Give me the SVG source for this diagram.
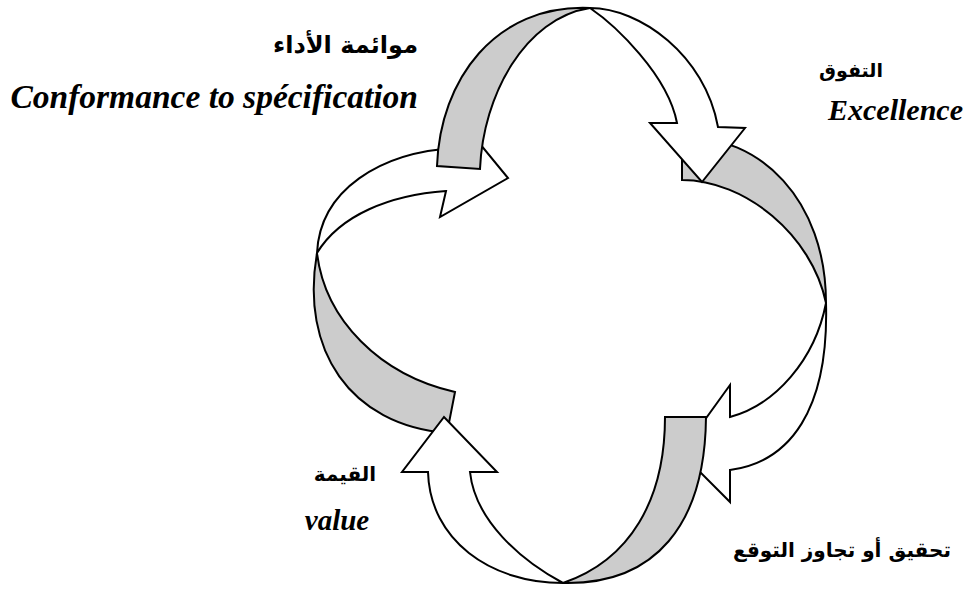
<svg xmlns="http://www.w3.org/2000/svg" width="968" height="590" viewBox="0 0 968 590">
  <style>
    .back { fill: #cccccc; stroke: #000; stroke-width: 2; stroke-linejoin: miter; }
    .front { fill: #ffffff; stroke: #000; stroke-width: 2; stroke-linejoin: miter; }
    .ar { font-family: "DejaVu Sans", sans-serif; font-weight: bold; fill: #000; }
    .en { font-family: "Liberation Serif", "Times New Roman", serif; font-weight: bold; font-style: italic; fill: #000; }
  </style>
  <rect width="968" height="590" fill="#ffffff"/>

  <!-- four curved ribbon arrows forming a clockwise cycle -->
  <g id="connectors">
    <g id="arrow-left">
      <path class="back" d="M455,392 C380,375 325,320 317,253 C300,350 350,425 447,433 Z"/>
      <path class="front" d="M317,253 C320,190 380,152 456,148 L462,122 L508,178 L440,217 L446,191 C390,195 340,215 317,253 Z"/>
    </g>
    <g id="arrow-right">
      <path class="back" d="M682,180 C745,180 812,235 826,303 C826,200 760,135 682,137 Z"/>
      <path class="front" d="M826,303 C829,410 790,462 730,470 L730,502 L681,453 L730,385 L730,417 C775,405 815,360 826,303 Z"/>
    </g>
    <g id="arrow-top">
      <path class="back" d="M480,169 C483,95 525,18 590,8 C495,4 440,80 437,166 Z"/>
      <path class="front" d="M590,8 C640,8 705,55 718,127 L745,128 L702,182 L650,123 L677,123 C668,75 615,25 590,8 Z"/>
    </g>
    <g id="arrow-bottom">
      <path class="back" d="M665,417 C665,500 630,560 563,583 C655,585 705,525 706,417 Z"/>
      <path class="front" d="M563,583 C490,583 430,540 428,472 L402,472 L444,417 L497,472 L470,472 C475,520 520,560 563,583 Z"/>
    </g>
  </g>

  <!-- stage labels -->
  <g id="label-conformance">
    <text class="ar" x="418" y="53" font-size="24" text-anchor="end">موائمة الأداء</text>
    <text class="en" x="418" y="108" font-size="33.5" text-anchor="end">Conformance to spécification</text>
  </g>
  <g id="label-excellence">
    <text class="ar" x="851" y="77" font-size="19" text-anchor="middle">التفوق</text>
    <text class="en" x="828" y="120" font-size="30">Excellence</text>
  </g>
  <g id="label-value">
    <text class="ar" x="345" y="481" font-size="20" text-anchor="middle">القيمة</text>
    <text class="en" x="337" y="530" font-size="29" text-anchor="middle">value</text>
  </g>
  <g id="label-expectation">
    <text class="ar" x="842" y="557" font-size="20" text-anchor="middle">تحقيق أو تجاوز التوقع</text>
  </g>
</svg>
